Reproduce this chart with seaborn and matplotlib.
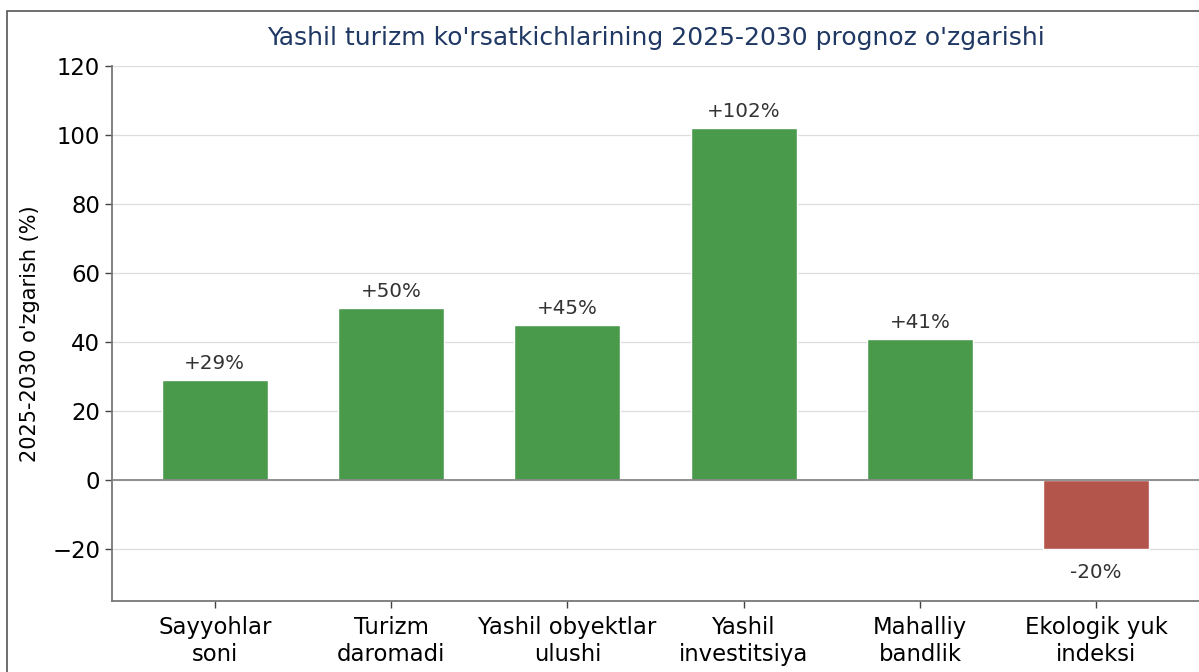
import matplotlib
matplotlib.use("Agg")
import matplotlib.pyplot as plt
import seaborn as sns
from matplotlib.patches import Rectangle

# Forecast change of green tourism indicators, 2025-2030
categories = ["Sayyohlar\nsoni", "Turizm\ndaromadi", "Yashil obyektlar\nulushi",
              "Yashil\ninvestitsiya", "Mahalliy\nbandlik", "Ekologik yuk\nindeksi"]
changes = [29, 50, 45, 102, 41, -20]
labels = ["+29%", "+50%", "+45%", "+102%", "+41%", "-20%"]

green = "#4a9a4c"
red = "#b3554a"
colors = [green if v >= 0 else red for v in changes]

sns.set_style("white")
plt.rcParams["font.family"] = ["DejaVu Sans"]

fig = plt.figure(figsize=(11.99, 6.72), dpi=100)
ax = fig.add_axes([112 / 1199, 71 / 672, 1 - 112 / 1199, 535 / 672])

# frame of the (cropped) figure
fig.patches.append(Rectangle((7 / 1199, -0.05), 1.2, (672 - 11) / 672 + 0.05,
                             transform=fig.transFigure, fill=False,
                             edgecolor="#555555", linewidth=1.2, zorder=0))

sns.barplot(x=categories, y=changes, hue=categories, palette=colors, width=0.6,
            saturation=1, edgecolor="white", linewidth=1, legend=False, ax=ax, zorder=3)

ax.axhline(0, color="#888888", linewidth=1.3, zorder=4)
ax.yaxis.grid(True, color="#dddddd", linewidth=0.9, zorder=0)
ax.set_axisbelow(True)

for i, (v, lab) in enumerate(zip(changes, labels)):
    if v >= 0:
        ax.annotate(lab, (i, v), xytext=(0, 5), textcoords="offset points",
                    ha="center", va="bottom", fontsize=14.3, color="#333333")
    else:
        ax.annotate(lab, (i, v), xytext=(0, -10), textcoords="offset points",
                    ha="center", va="top", fontsize=14.3, color="#333333")

ax.set_xlim(-0.583, 5.583)
ax.set_ylim(-35, 120)
ax.set_yticks([-20, 0, 20, 40, 60, 80, 100, 120])
ax.set_ylabel("2025-2030 o'zgarish (%)", fontsize=15, color="black", labelpad=9)
ax.set_xlabel("")
ax.set_title("Yashil turizm ko'rsatkichlarining 2025-2030 prognoz o'zgarishi",
             fontsize=18, color="#1f3864", pad=15)
ax.tick_params(axis="both", labelsize=16.4, length=5, width=1, color="#444444",
               labelcolor="black", bottom=True, left=True)
ax.tick_params(axis="x", pad=6)

for side in ["top", "right"]:
    ax.spines[side].set_visible(False)
for side in ["left", "bottom"]:
    ax.spines[side].set_color("#777777")
    ax.spines[side].set_linewidth(1.3)

fig.savefig("out.png", dpi=100)
